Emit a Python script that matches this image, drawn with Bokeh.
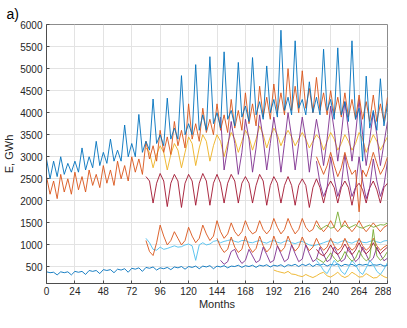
from bokeh.plotting import figure
from bokeh.models import FixedTicker, Range1d
from bokeh.embed import file_html
from bokeh.resources import INLINE

# ---- data: monthly energy series sampled every 3 months (start month, values) ----
x_ticks = [0, 24, 48, 72, 96, 120, 144, 168, 192, 216, 240, 264, 288]
y_ticks = [500, 1000, 1500, 2000, 2500, 3000, 3500, 4000, 4500, 5000, 5500, 6000]
step = 3

blue_top_start = 0
blue_top = [2950, 2500, 2900, 2550, 3000, 2600, 2850, 2650, 2900, 2650, 3200, 2700,
            3000, 2750, 3350, 2800, 3100, 2850, 3400, 2900, 3150, 2900, 3720, 3000,
            3300, 3000, 3960, 3100, 3350, 3150, 4310, 3300, 3500, 3250, 4330, 3400,
            3650, 3400, 4840, 3500, 3750, 3500, 5090, 3600, 3950, 3600, 5270, 3750,
            4000, 3650, 5380, 3850, 4050, 3700, 5140, 3900, 4150, 3800, 5250, 3950,
            4250, 3850, 5060, 4000, 4300, 3900, 5870, 4050, 4350, 3950, 5630, 4100,
            4300, 3950, 4700, 4000, 4350, 3950, 5440, 4050, 4300, 3850, 5470, 3950,
            4250, 3800, 5630, 3850, 4100, 2900, 4830, 3650, 4050, 3600, 4770, 3700,
            4200]

orange_top_start = 0
orange_top = [2550, 2150, 2450, 2050, 2600, 2200, 2500, 2150, 2650, 2250, 2550, 2200,
              2700, 2350, 2600, 2300, 2800, 2400, 2700, 2350, 2900, 2500, 2800, 2450,
              3000, 2650, 2950, 2600, 3350, 2950, 3250, 2900, 3600, 3100, 3450, 3050,
              3800, 3250, 3600, 3200, 4200, 3400, 3750, 3350, 4100, 3550, 3850, 3500,
              4200, 3600, 3950, 3550, 4300, 3650, 4050, 3600, 4450, 3750, 4200, 3700,
              4600, 3900, 4350, 3850, 4650, 4000, 4450, 3950, 5000, 4050, 4600, 4000,
              4950, 4100, 4550, 4000, 4800, 4050, 4450, 3950, 4500, 3950, 4350, 3900,
              4450, 3900, 4300, 3850, 4400, 3850, 4250, 3800, 4400, 3800, 4200, 3800,
              4350]

yellow_start = 84
yellow = [3200, 3100, 2750, 3050, 3250, 3100, 2700, 3050, 3300, 3150, 2750, 3100,
          3450, 3300, 2800, 3200, 3500, 3350, 2900, 3250, 3500, 3350, 3000, 3300,
          3550, 3400, 3100, 3350, 3600, 3450, 3150, 3400, 3700, 3500, 3200, 3450,
          3650, 3500, 3250, 3450, 3600, 3450, 3250, 3400, 3550, 3400, 3200, 3350,
          3500, 3400, 3150, 3350, 3550, 3400, 3150, 3300, 3500, 3350, 3150, 3300,
          3550, 3400, 3100, 3300, 3500, 3350, 3150, 3300, 3450]

purple_top_start = 147
purple_top = [3900, 2700, 3200, 3800, 3300, 2600, 3100, 3850, 3400, 2650, 3200, 3950,
              3400, 2700, 3300, 3900, 3400, 2650, 3300, 4000, 3450, 2700, 3300, 3900,
              3400, 2650, 3300, 3850, 3400, 2800, 3400, 4150, 3600, 2900, 3500, 4250,
              3600, 2900, 3500, 4300, 3500, 2800, 3400, 4000, 3500, 2800, 3300, 3800]

darkred_start = 84
darkred = [2550, 2450, 1950, 2400, 2620, 2450, 1870, 2400, 2600, 2450, 1850, 2400,
           2600, 2450, 1900, 2400, 2620, 2450, 1900, 2400, 2600, 2400, 1950, 2400,
           2600, 2450, 1950, 2400, 2550, 2400, 1950, 2350, 2600, 2450, 1900, 2350,
           2550, 2400, 1950, 2350, 2550, 2350, 1900, 2350, 2500, 2350, 1850, 2300,
           2500, 2300, 1950, 2300, 2450, 2300, 1950, 2300, 2450, 2300, 1900, 2300,
           2400, 2250, 1950, 2300, 2450, 2250, 1950, 2300, 2400]

orange_mid_start = 84
orange_mid = [1100, 850, 760, 1050, 1450, 1200, 1000, 1100, 1300, 1150, 1000, 1100,
              1400, 1200, 1050, 1150, 1450, 1250, 1100, 1200, 1550, 1300, 1150, 1250,
              1500, 1300, 1200, 1300, 1550, 1350, 1250, 1300, 1550, 1350, 1250, 1350,
              1600, 1400, 1250, 1350, 1600, 1400, 1250, 1350, 1600, 1400, 1300, 1350,
              1550, 1400, 1300, 1400, 1550, 1400, 1300, 1400, 1550, 1400, 1300, 1400,
              1550, 1400, 1300, 1400, 1500, 1400, 1300, 1400, 1450]

lightblue_start = 84
lightblue = [1150, 1050, 900, 880, 950, 900, 920, 950, 980, 950, 960, 1000,
             1020, 980, 650, 1000, 1050, 1000, 1020, 1080, 1100, 1050, 1080, 1100,
             1120, 1080, 1060, 1100, 1100, 1060, 1050, 1080, 1100, 1060, 1040, 1080,
             1100, 1060, 1040, 1080, 1100, 1050, 1030, 1060, 1080, 1040, 1000, 980,
             1000, 1020, 1050, 1080, 1100, 1060, 1040, 1080, 1100, 1060, 1040, 1080,
             1100, 1060, 1050, 1080, 1100, 1070, 1050, 1090, 1100]

blue_low_start = 0
blue_low = [390, 370, 380, 320, 390, 370, 390, 320, 400, 380, 400, 330,
            420, 400, 420, 350, 440, 420, 440, 370, 450, 430, 460, 380,
            470, 450, 480, 400, 490, 470, 500, 430, 480, 460, 490, 440,
            500, 480, 510, 450, 510, 490, 520, 460, 520, 500, 530, 460,
            520, 500, 530, 480, 520, 510, 540, 490, 530, 510, 540, 490,
            540, 520, 550, 500, 540, 520, 550, 500, 550, 530, 560, 510,
            560, 530, 570, 510, 560, 540, 570, 520, 560, 540, 570, 520,
            560, 540, 560, 520, 560, 540, 560, 530, 550, 540, 560, 520,
            540]

orange_low_start = 144
orange_low = [1150, 950, 830, 900, 1180, 950, 830, 900, 1200, 960, 830, 920,
              1200, 980, 840, 930, 1200, 980, 850, 940, 1200, 1000, 860, 950,
              1180, 1000, 870, 950, 1150, 980, 880, 950, 1150, 980, 880, 950,
              1150, 980, 880, 950, 1150, 980, 880, 950, 1150, 980, 880, 950, 1000]

purple_low_start = 147
purple_low = [650, 560, 620, 850, 900, 700, 580, 650, 900, 750, 600, 650,
              950, 780, 600, 650, 980, 800, 620, 680, 1000, 800, 620, 680,
              1000, 800, 620, 680, 950, 780, 620, 680, 950, 780, 620, 680,
              950, 780, 620, 700, 950, 780, 620, 700, 950, 780, 640, 700]

green_start = 228
green = [1450, 1350, 1400, 1450, 1380, 1400, 1750, 1400, 1450, 1380, 1420,
         1460, 1400, 1380, 1420, 1450, 1400, 1430, 1460, 1450, 1500]

yellow_low_start = 192
yellow_low = [430, 400, 380, 360, 400, 340, 330, 300, 280, 330, 290, 260,
              300, 350, 380, 300, 270, 320, 380, 300, 260, 300, 380, 330,
              270, 280, 350, 300, 250, 260, 330, 280, 250]

lightblue_low_start = 228
lightblue_low = [650, 550, 420, 350, 500, 650, 550, 400, 330, 480, 650,
                 550, 400, 330, 480, 650, 550, 400, 330, 450, 600]

green_low_start = 228
green_low = [700, 650, 600, 700, 820, 700, 620, 680, 850, 720, 630,
             700, 880, 720, 640, 700, 1350, 750, 650, 720, 850]

purple_mid_start = 228
purple_mid = [2900, 2400, 2100, 2300, 3000, 2500, 2100, 2350, 3050, 2500, 2100,
              2300, 3000, 2450, 2050, 2300, 2950, 2450, 2100, 2350, 2900]

orange_hi_start = 228
orange_hi = [3000, 2800, 2600, 2800, 3100, 2800, 2550, 2750, 3100, 2800, 2600,
             2700, 1750, 2700, 2550, 2800, 3100, 2850, 2600, 2750, 3000]

darkred_low_start = 228
darkred_low = [900, 800, 750, 850, 1000, 850, 780, 870, 1020, 870, 780,
               880, 1050, 880, 800, 880, 1050, 900, 800, 880, 950]

C_BLUE, C_ORANGE, C_YELLOW = "#0072BD", "#D95319", "#EDB120"
C_PURPLE, C_GREEN, C_LBLUE, C_DRED = "#7E2F8E", "#77AC30", "#4DBEEE", "#A2142F"

series = [
    (blue_low_start, blue_low, C_BLUE),
    (lightblue_start, lightblue, C_LBLUE),
    (orange_mid_start, orange_mid, C_ORANGE),
    (darkred_start, darkred, C_DRED),
    (yellow_start, yellow, C_YELLOW),
    (orange_low_start, orange_low, C_ORANGE),
    (purple_low_start, purple_low, C_PURPLE),
    (yellow_low_start, yellow_low, C_YELLOW),
    (lightblue_low_start, lightblue_low, C_LBLUE),
    (darkred_low_start, darkred_low, C_DRED),
    (green_low_start, green_low, C_GREEN),
    (green_start, green, C_GREEN),
    (purple_mid_start, purple_mid, C_PURPLE),
    (orange_hi_start, orange_hi, C_ORANGE),
    (purple_top_start, purple_top, C_PURPLE),
    (orange_top_start, orange_top, C_ORANGE),
    (blue_top_start, blue_top, C_BLUE),
]

FONT = "Liberation Sans"
AX = "#4d4d4d"

p = figure(width=391, height=312, output_backend="svg", toolbar_location=None,
           x_range=Range1d(0, 288), y_range=Range1d(125, 6000),
           min_border_left=0, min_border_right=4, min_border_top=0, min_border_bottom=0)
p.background_fill_color = "white"
p.border_fill_color = "white"
p.outline_line_color = "#8c8c8c"

for start, vals, col in series:
    xs = [start + step * i for i in range(len(vals))]
    p.line(xs, vals, line_color=col, line_width=0.9)

p.xaxis.ticker = FixedTicker(ticks=x_ticks)
p.yaxis.ticker = FixedTicker(ticks=y_ticks)
p.xgrid.ticker = FixedTicker(ticks=x_ticks)
p.ygrid.ticker = FixedTicker(ticks=y_ticks)
p.xgrid.grid_line_color = "#e3e3e3"
p.ygrid.grid_line_color = "#e3e3e3"

for ax in (p.xaxis[0], p.yaxis[0]):
    ax.major_tick_in = 3
    ax.major_tick_out = 0
    ax.minor_tick_line_color = None
    ax.axis_line_color = AX
    ax.major_tick_line_color = AX
    ax.major_label_text_color = "#262626"
    ax.major_label_text_font = FONT
    ax.major_label_text_font_size = "10px"
    ax.axis_label_text_font = FONT
    ax.axis_label_text_font_size = "11px"
    ax.axis_label_text_font_style = "normal"
    ax.axis_label_text_color = "#262626"

p.xaxis.axis_label = "Months"
p.yaxis.axis_label = "E, GWh"
p.xaxis.major_label_standoff = 3
p.yaxis.major_label_standoff = 4
p.xaxis.axis_label_standoff = 0
p.yaxis.axis_label_standoff = 2

p.title.text = "a)"
p.title.text_font = FONT
p.title.text_font_size = "14px"
p.title.text_font_style = "normal"
p.title.text_color = "#000000"
p.title.align = "left"
p.title.offset = -40
p.title.standoff = 6

open("out.html", "w").write(file_html(p, INLINE))
